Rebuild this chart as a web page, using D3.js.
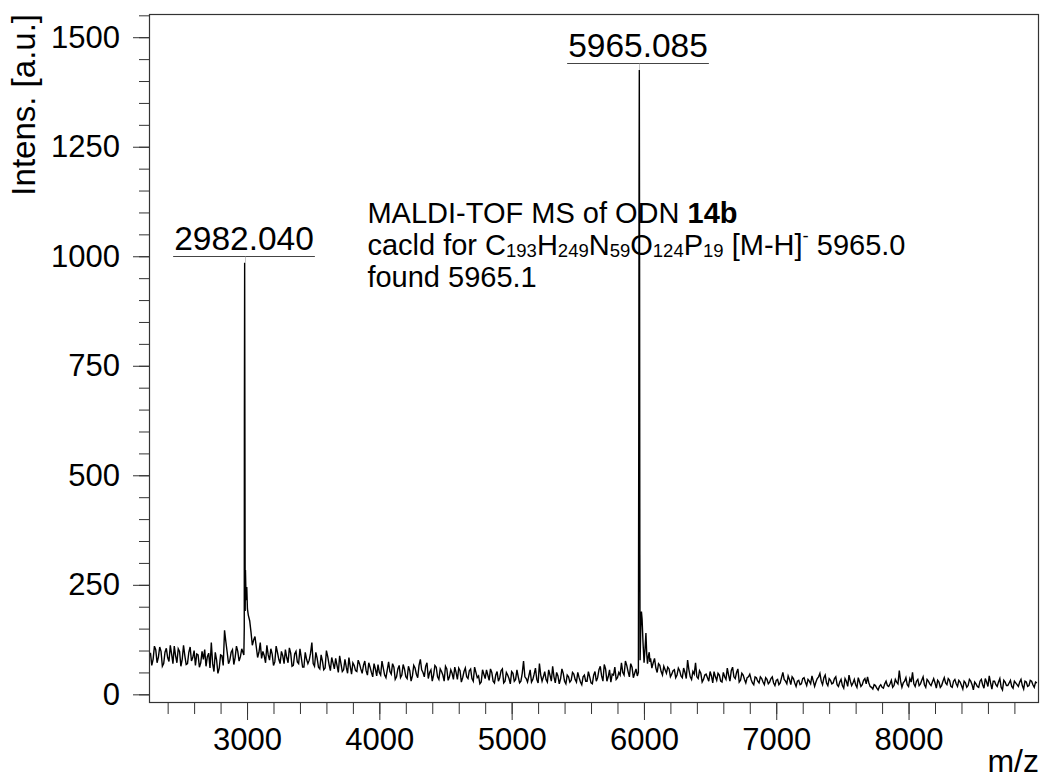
<!DOCTYPE html>
<html>
<head>
<meta charset="utf-8">
<script src="https://cdn.jsdelivr.net/npm/d3@7"></script>
<style>
  body { margin: 0; background: #fff; }
  svg { display: block; font-family: "Liberation Sans", Arial, sans-serif; }
</style>
</head>
<body>
<div id="chart"></div>
<script>
// baseline noise, one reading every 20 m/z from 2270 (null = covered by a peak list)
const noiseStart = 2270;
const noiseStep = 20;
const noise = [
  95, 80, 102, 85, 98, 70, 105, 75, 92, 110,
  72, 98, 80, 88, 70, 108, 84, 66, 90, 72,
  80, 64, 94, 118, 52, 78, 60, 88, 146, 96,
  78, 102, 84, 98, 86, 95, null, 180, 142, 124,
  108, 96, 82, 88, 112, 78, 92, 74, 96, 70,
  88, 102, 72, 94, 66, 98, 70, 84, 62, 80,
  78, 118, 64, 82, 58, 76, 60, 86, 54, 72,
  82, 50, 70, 56, 62, 84, 46, 66, 52, 70,
  48, 76, 44, 62, 40, 58, 68, 44, 60, 38,
  74, 46, 62, 40, 66, 44, 58, 36, 54, 42,
  60, 38, 80, 50, 64, 36, 56, 44, 62, 34,
  52, 30, 58, 40, 48, 62, 34, 54, 38, 60,
  36, 58, 30, 50, 42, 28, 46, 56, 32, 50,
  26, 52, 38, 58, 30, 44, 24, 48, 34, 40,
  30, 76, 36, 42, 28, 46, 34, 70, 30, 52,
  28, 44, 64, 26, 42, 36, 48, 24, 40, 32,
  46, 28, 38, 22, 44, 30, 40, 24, 52, 38,
  64, 30, 58, 40, 28, 44, 34, 50, 72, 44,
  66, 40, 62, 48, 42, null, null, null, null, 82,
  72, 60, 70, 52, 64, 48, 58, 46, 56, 44,
  54, 38, 50, 78, 40, 52, 72, 36, 48, 34,
  46, 30, 42, 52, 32, 44, 28, 40, 60, 30,
  62, 36, 58, 32, 44, 26, 40, 34, 22, 38,
  26, 36, 22, 34, 28, 40, 20, 34, 26, 50,
  30, 42, 22, 36, 18, 32, 24, 38, 20, 30,
  42, 18, 36, 48, 22, 44, 20, 32, 26, 40,
  18, 34, 14, 30, 44, 20, 34, 16, 28, 22,
  36, 40, 18, 12, 20, 10, 22, 14, 30, 18,
  32, 20, 28, 54, 16, 30, 22, 36, 50, 18,
  34, 24, 40, 16, 30, 20, 36, 14, 28, 20,
  38, 22, 32, 16, 34, 18, 28, 12, 26, 20,
  30, 10, 24, 16, 34, 14, 28, 42, 12, 30,
  18, 36, 10, 28, 20, 32, 14, 26, 18, 34,
  12, 28, 20, 30, 16, 26
];

// readings in between, every 20 m/z from 2280
const noiseMidStart = 2280;
const noiseMid = [
  66, 110, 72, 108, 64, 96, 84, 112, 70, 88,
  104, 64, 112, 68, 96, 76, 100, 92, 62, 98,
  102, 86, 60, 70, 96, 48, 90, 66, 120, 70,
  96, 68, 110, 76, 104, null, null, 168, 112, 132,
  84, 118, 98, 72, 90, 104, 66, 110, 80, 98,
  70, 84, 106, 64, 92, 74, 104, 62, 96, 70,
  94, 70, 96, 62, 90, 56, 100, 68, 84, 58,
  66, 88, 52, 80, 48, 64, 72, 54, 78, 58,
  66, 54, 72, 50, 70, 42, 50, 76, 44, 56,
  52, 70, 34, 58, 38, 68, 40, 64, 30, 66,
  46, 66, 56, 40, 72, 50, 30, 66, 40, 58,
  44, 64, 32, 56, 34, 50, 60, 28, 52, 40,
  54, 36, 62, 38, 24, 56, 36, 44, 58, 30,
  44, 30, 54, 26, 50, 36, 52, 30, 56, 26,
  48, 40, 28, 56, 34, 60, 26, 44, 40, 34,
  56, 30, 40, 50, 24, 58, 30, 44, 28, 50,
  34, 50, 28, 40, 30, 52, 26, 44, 30, 56,
  42, 68, 30, 56, 46, 62, 38, 44, 50, 76,
  52, 70, 38, 58, null, null, null, null, null, 60,
  82, 50, 66, 44, 56, 62, 40, 54, 38, 60,
  42, 60, 36, 56, 34, 46, 40, 54, 28, 44,
  38, 52, 26, 40, 48, 30, 50, 34, 44, 54,
  40, 50, 28, 48, 34, 38, 46, 26, 40, 30,
  40, 28, 38, 24, 36, 26, 32, 22, 38, 34,
  24, 34, 40, 26, 30, 22, 36, 28, 34, 24,
  30, 28, 40, 30, 38, 26, 36, 24, 36, 22,
  28, 20, 36, 18, 30, 26, 22, 38, 18, 32,
  24, 26, 16, 22, 14, 18, 16, 24, 20, 24,
  16, 34, 24, 30, 26, 38, 18, 28, 24, 30,
  20, 32, 22, 34, 24, 28, 26, 32, 16, 30,
  26, 36, 18, 30, 24, 32, 20, 30, 16, 34,
  22, 28, 18, 30, 22, 36, 18, 26, 30, 22,
  28, 16, 32, 20, 26, 18, 30, 22, 28, 20,
  30, 18, 32, 22, 28
];

// the two sharp peaks, [m/z, intensity]
const peak2982 = [
  [2976, 90], [2979, 150], [2980, 640], [2982, 985], [2984, 580],
  [2986, 190], [2988, 284], [2993, 215], [2998, 245], [3003, 195]
];
const peak5965 = [
  [5958, 50], [5961, 620], [5963, 1180], [5965, 1425], [5967, 980],
  [5969, 320], [5971, 78], [5976, 152], [5981, 189], [5986, 172],
  [5993, 118], [6001, 72], [6009, 108], [6015, 140], [6021, 92],
  [6027, 70], [6034, 88], [6040, 96], [6045, 74]
];

const peakLabels = [
  { mz: 2982.040, text: "2982.040", points: peak2982 },
  { mz: 5965.085, text: "5965.085", points: peak5965 }
];

const xTicks = [3000, 4000, 5000, 6000, 7000, 8000];
const yTicks = [0, 250, 500, 750, 1000, 1250, 1500];

const noteAt = [3910, 1075];
const noteTitle = "MALDI-TOF MS of ODN ";
const noteBold = "14b";
const formulaParts = [
  ["cacld for C", ""], ["193", "sub"], ["H", ""], ["249", "sub"],
  ["N", ""], ["59", "sub"], ["O", ""], ["124", "sub"], ["P", ""], ["19", "sub"],
  [" [M-H]", ""], ["-", "sup"], [" 5965.0", ""]
];
const noteFound = "found 5965.1";

const width = 1044, height = 779;
const plot = { left: 149, right: 1039, top: 14, bottom: 702 };

const x = d3.scaleLinear().domain([2259, 8986]).range([plot.left, plot.right]);
const y = d3.scaleLinear().domain([-17.5, 1553]).range([plot.bottom, plot.top]);

const svg = d3.select("#chart").append("svg")
  .attr("width", width)
  .attr("height", height);

svg.append("clipPath").attr("id", "clip")
  .append("rect")
  .attr("x", plot.left).attr("y", plot.top)
  .attr("width", plot.right - plot.left).attr("height", plot.bottom - plot.top);

// spectrum
const spectrum = noise
  .map((v, i) => [noiseStart + i * noiseStep, v])
  .concat(noiseMid.map((v, i) => [noiseMidStart + i * noiseStep, v]))
  .filter(d => d[1] != null)
  .concat(peak2982, peak5965)
  .sort((a, b) => a[0] - b[0]);

const line = d3.line().x(d => x(d[0])).y(d => y(d[1]));

svg.append("path")
  .datum(spectrum)
  .attr("clip-path", "url(#clip)")
  .attr("fill", "none")
  .attr("stroke", "#000")
  .attr("stroke-width", 1.4)
  .attr("d", line);

// axes
const axisColor = "#333";

const styleAxis = (g, size) => {
  g.attr("font-size", size).attr("font-family", null);
  g.select(".domain").remove();
  g.selectAll(".tick line").attr("stroke", axisColor);
  g.selectAll("text").attr("fill", "#000");
};

svg.append("g")
  .attr("transform", `translate(0,${plot.bottom})`)
  .call(d3.axisBottom(x).tickValues(d3.range(2400, 8900, 200)).tickSize(12).tickFormat(""))
  .call(styleAxis, 31);

svg.append("g")
  .attr("transform", `translate(0,${plot.bottom})`)
  .call(d3.axisBottom(x).tickValues(xTicks).tickSize(18).tickPadding(8).tickFormat(d3.format("d")))
  .call(styleAxis, 31);

svg.append("g")
  .attr("transform", `translate(${plot.left},0)`)
  .call(d3.axisLeft(y).tickValues(d3.range(0, 1551, 50)).tickSize(10).tickFormat(""))
  .call(styleAxis, 31);

svg.append("g")
  .attr("transform", `translate(${plot.left},0)`)
  .call(d3.axisLeft(y).tickValues(yTicks).tickSize(16).tickPadding(13).tickFormat(d3.format("d")))
  .call(styleAxis, 31);

// frame
svg.append("rect")
  .attr("x", plot.left + 0.5).attr("y", plot.top + 0.5)
  .attr("width", plot.right - plot.left - 1).attr("height", plot.bottom - plot.top)
  .attr("fill", "none")
  .attr("stroke", axisColor)
  .attr("stroke-width", 1.2);

// axis titles
svg.append("text")
  .attr("transform", "translate(35,14) rotate(-90)")
  .attr("text-anchor", "end")
  .attr("font-size", 33)
  .text("Intens. [a.u.]");

svg.append("text")
  .attr("x", plot.right)
  .attr("y", 772)
  .attr("text-anchor", "end")
  .attr("font-size", 32)
  .text("m/z");

// peak labels
peakLabels.forEach(p => {
  const px = Math.round(x(p.mz)) + 0.5;
  const top = y(d3.max(p.points, d => d[1]));
  const lineY = Math.round(top - 7) + 0.5;
  const t = svg.append("text")
    .attr("x", px - 1.5)
    .attr("y", lineY - 7)
    .attr("text-anchor", "middle")
    .attr("font-size", 33.5)
    .text(p.text);
  const w = t.node().getComputedTextLength();
  svg.append("line")
    .attr("x1", px - 1.5 - w / 2 - 1).attr("x2", px - 1.5 + w / 2 + 1)
    .attr("y1", lineY).attr("y2", lineY)
    .attr("stroke", "#444").attr("stroke-width", 1.2);
  svg.append("line")
    .attr("x1", px).attr("x2", px)
    .attr("y1", lineY).attr("y2", top)
    .attr("stroke", "#888").attr("stroke-dasharray", "1,1");
});

// annotation
const nx = x(noteAt[0]), ny = y(noteAt[1]);
const lineGap = 32;
const noteSize = 29;

const t1 = svg.append("text").attr("x", nx).attr("y", ny).attr("font-size", noteSize);
t1.append("tspan").text(noteTitle);
t1.append("tspan").attr("font-weight", "bold").text(noteBold);

const t2 = svg.append("text").attr("x", nx).attr("y", ny + lineGap).attr("font-size", noteSize);
let shift = 0;
formulaParts.forEach(([s, kind]) => {
  const want = kind === "sub" ? 2 : kind === "sup" ? -13 : 0;
  t2.append("tspan")
    .attr("dy", want - shift)
    .attr("font-size", kind ? 18.5 : null)
    .text(s);
  shift = want;
});

svg.append("text").attr("x", nx).attr("y", ny + 2 * lineGap).attr("font-size", noteSize).text(noteFound);
</script>
</body>
</html>
